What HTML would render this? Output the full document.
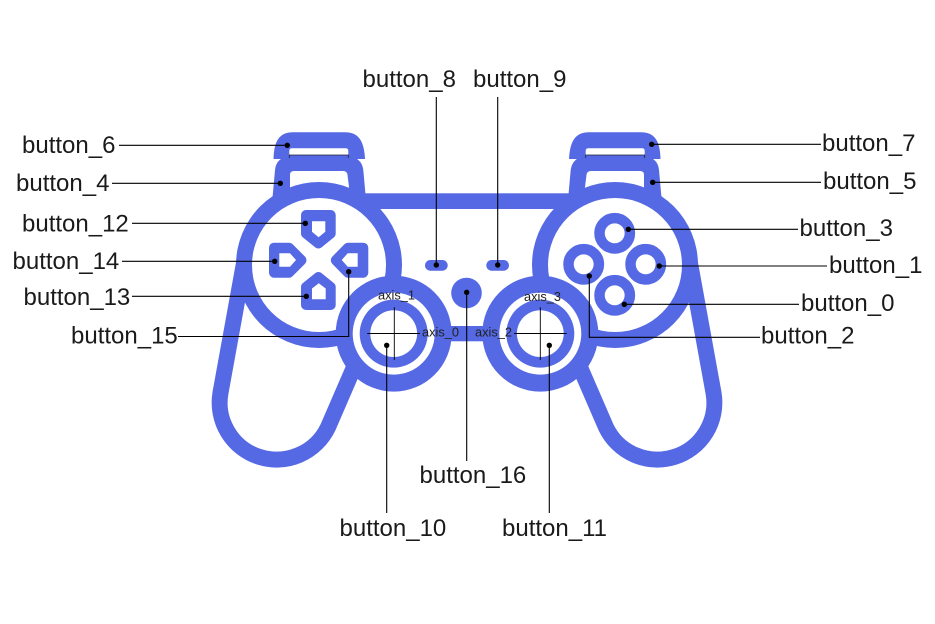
<!DOCTYPE html>
<html>
<head>
<meta charset="utf-8">
<style>
html,body{margin:0;padding:0;background:#fff;width:935px;height:624px;overflow:hidden}
svg{display:block}
text{font-family:"Liberation Sans",sans-serif;fill:#1a1a1a}
.l{font-size:24px}
.a{font-size:12.800px;fill:#222}
.w{stroke:#000;stroke-width:1.1;fill:none}
.t{stroke:#000;stroke-width:.9;fill:none}
</style>
</head>
<body>
<svg width="935" height="624" viewBox="0 0 935 624" xmlns="http://www.w3.org/2000/svg">
<rect width="935" height="624" fill="#fff"/>
<defs>
<g id="side">
  <path d="M244.200 262 L220.400 393.300 A57 57 0 0 0 328 427.300 L358 358" fill="none" stroke="#5569e5" stroke-width="16"/>
  <path d="M272.300 200 L275 170 Q276 160 285 157 L353 157 Q362 160 363.300 170 L366 200 Z" fill="#5569e5"/>
  <path d="M290 195 L290 175 Q290 171 294 171 L343 171 Q347 171 347.500 175 L350 195 Z" fill="#fff"/>
  <path d="M273.500 159 C274 140 280 132.300 293 132.300 L345 132.300 C358 132.300 364 140 365 159 Z" fill="#5569e5"/>
  <path d="M289.300 155 L289.300 151 Q289.300 148.300 292 148.300 L345.500 148.300 Q348.300 148.300 348.300 151 L348.300 155 Z" fill="#fff"/>
  <path d="M289.300 158 V155 H348.300 V158" fill="none" stroke="#223" stroke-width=".8"/>
  <circle cx="319" cy="265" r="83" fill="#5569e5"/>
  <circle cx="319" cy="265" r="67" fill="#fff"/>
</g>
<g id="stick">
  <circle cx="393.700" cy="333.600" r="58" fill="#5569e5"/>
  <circle cx="393.700" cy="333.600" r="41" fill="#fff"/>
  <circle cx="393.700" cy="333.600" r="34" fill="#5569e5"/>
  <circle cx="393.700" cy="333.600" r="23.400" fill="#fff"/>
</g>
</defs>

<!-- body -->
<rect x="360" y="193.300" width="214" height="15.700" fill="#5569e5"/>
<use href="#side"/>
<use href="#side" transform="translate(934 0) scale(-1 1)"/>
<rect x="445" y="326" width="44" height="15.300" fill="#5569e5"/>
<use href="#stick"/>
<use href="#stick" transform="translate(934 0) scale(-1 1)"/>

<!-- d-pad -->
<g fill="#5569e5" stroke="#5569e5" stroke-width="10" stroke-linejoin="round">
  <polygon points="306,215 330.700,215 330.700,233.500 318.400,243.500 306,233.500"/>
  <polygon points="306,305 330.700,305 330.700,287 318.400,277 306,287"/>
  <polygon points="274,247.700 289,247.700 301.500,260.200 289,272.700 274,272.700"/>
  <polygon points="363.300,247.700 348,247.700 335.800,260.200 348,272.700 363.300,272.700"/>
</g>
<g fill="#fff">
  <polygon points="312,221.300 325.300,221.300 325.300,231.700 318.600,237.300 312,231.700"/>
  <polygon points="312,299.300 325.700,299.300 325.700,288.500 318.800,283.300 312,288.500"/>
  <polygon points="279.300,253.300 290,253.300 296,260 290,266.700 279.300,266.700"/>
  <polygon points="357.700,253.300 347.700,253.300 341.700,260 347.700,266.700 357.700,266.700"/>
</g>

<!-- face buttons -->
<g fill="#fff" stroke="#5569e5" stroke-width="10.500">
  <circle cx="614.700" cy="233.300" r="15.200"/>
  <circle cx="583.700" cy="264.300" r="15.200"/>
  <circle cx="645.700" cy="264.300" r="15.200"/>
  <circle cx="614.700" cy="295.300" r="15.200"/>
</g>

<!-- center -->
<rect x="425" y="260" width="22.700" height="10.700" rx="5.350" fill="#5569e5"/>
<rect x="486.300" y="260" width="22.700" height="10.700" rx="5.350" fill="#5569e5"/>
<circle cx="466.500" cy="293" r="15.300" fill="#5569e5"/>

<!-- crosshairs -->
<path class="t" d="M367.300 333.500 H420 M394.300 307.300 V360 M514 333.500 H566.700 M540.300 307.300 V360"/>

<!-- leaders -->
<path class="w" d="M119 145.300 H287.300 M112 183.300 H280.300 M132 223.300 H305.300 M122 261.300 H274.700 M132 296.300 H306.300 M178 336.500 H348.700 V271.700
M436.300 97 V265 M497.700 97 V265 M466.700 292.300 V461 M386.700 345.300 V513 M549.300 345.300 V513
M651.700 144.300 H821 M652.700 182.300 H821 M628.300 229.300 H798 M659.300 266 H827 M624.300 304.300 H799 M589.300 276 V337.300 H760"/>
<g fill="#000">
  <circle cx="287.300" cy="145.300" r="2.700"/><circle cx="280.300" cy="183.300" r="2.700"/>
  <circle cx="305.300" cy="223.300" r="2.700"/><circle cx="274.700" cy="261.300" r="2.700"/>
  <circle cx="306.300" cy="296.300" r="2.700"/><circle cx="348.700" cy="271.700" r="2.700"/>
  <circle cx="436.300" cy="265" r="2.700"/><circle cx="497.700" cy="265" r="2.700"/>
  <circle cx="466.700" cy="292.300" r="2.700"/><circle cx="386.700" cy="345.300" r="2.700"/>
  <circle cx="549.300" cy="345.300" r="2.700"/><circle cx="651.700" cy="144.300" r="2.700"/>
  <circle cx="652.700" cy="182.300" r="2.700"/><circle cx="628.300" cy="229.300" r="2.700"/>
  <circle cx="659.300" cy="266" r="2.700"/><circle cx="624.300" cy="304.300" r="2.700"/>
  <circle cx="589.300" cy="276" r="2.700"/>
</g>

<!-- labels -->
<g class="l">
  <text class="l" x="22" y="153">button_6</text>
  <text class="l" x="16" y="191">button_4</text>
  <text class="l" x="22" y="231.500">button_12</text>
  <text class="l" x="12.500" y="269">button_14</text>
  <text class="l" x="23.500" y="305">button_13</text>
  <text class="l" x="71" y="343.500">button_15</text>
  <text class="l" x="362.500" y="87">button_8</text>
  <text class="l" x="473" y="87">button_9</text>
  <text class="l" x="822" y="151">button_7</text>
  <text class="l" x="823" y="189">button_5</text>
  <text class="l" x="799.500" y="236">button_3</text>
  <text class="l" x="829" y="273">button_1</text>
  <text class="l" x="801" y="311">button_0</text>
  <text class="l" x="761" y="343.500">button_2</text>
  <text class="l" x="419.500" y="483">button_16</text>
  <text class="l" x="339.500" y="536">button_10</text>
  <text class="l" x="502" y="536">button_11</text>
</g>
<text class="a" x="378" y="299.500">axis_1</text>
<text class="a" x="524" y="301">axis_3</text>
<text class="a" x="422" y="336.500">axis_0</text>
<text class="a" x="475" y="336.500">axis_2</text>
</svg>
</body>
</html>
